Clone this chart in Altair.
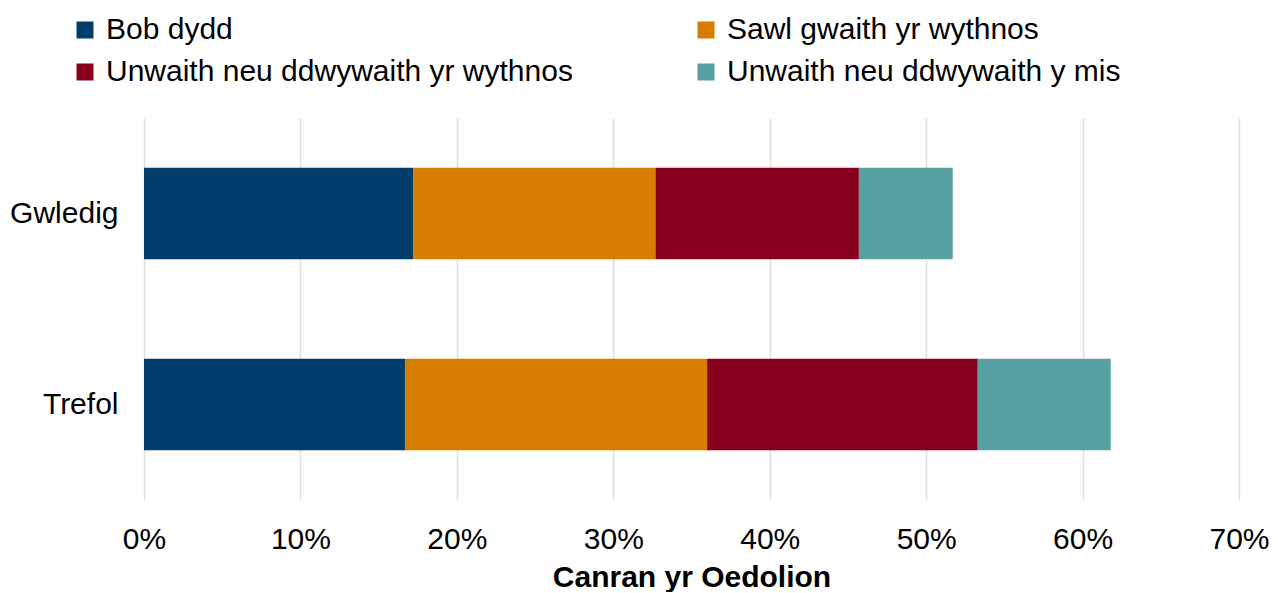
import altair as alt
import pandas as pd

areas = ["Gwledig", "Trefol"]
categories = ["Bob dydd", "Sawl gwaith yr wythnos",
              "Unwaith neu ddwywaith yr wythnos", "Unwaith neu ddwywaith y mis"]
gwledig = [17.2, 15.5, 13.0, 6.0]
trefol = [16.7, 19.3, 17.3, 8.5]
colors = ["#003D6B", "#D67C00", "#88001D", "#57A1A3"]
ticks = [0, 0.1, 0.2, 0.3, 0.4, 0.5, 0.6, 0.7]

rows = []
for area, vals in zip(areas, [gwledig, trefol]):
    for i, (c, v) in enumerate(zip(categories, vals)):
        rows.append({"area": area, "cat": c, "val": v / 100, "ord": i})
df = pd.DataFrame(rows)

FONT = "Liberation Sans"
FS = 30

chart = alt.Chart(df).mark_bar().encode(
    x=alt.X("val:Q", stack="zero",
            scale=alt.Scale(domain=[0, 0.7], nice=False),
            axis=alt.Axis(values=ticks, format=".0%", title="Canran yr Oedolion",
                          labelFontSize=FS, labelFont=FONT, labelColor="black",
                          labelFlush=False, labelOverlap=False,
                          labelPadding=24, titleFontSize=FS, titleFont=FONT,
                          titleFontWeight="bold", titleColor="black", titlePadding=8,
                          domain=False, ticks=False, grid=True,
                          gridColor="#e0e0e0", gridWidth=1.5)),
    y=alt.Y("area:N", sort=areas, title=None,
            scale=alt.Scale(paddingInner=0.52, paddingOuter=0.26),
            axis=alt.Axis(labelFontSize=FS, labelFont=FONT, labelColor="black",
                          labelPadding=26, domain=False, ticks=False, grid=False)),
    color=alt.Color("cat:N", sort=categories,
                    scale=alt.Scale(domain=categories, range=colors),
                    legend=alt.Legend(title=None, orient="none", legendX=-74, legendY=-103,
                                      columns=2, columnPadding=118, rowPadding=12,
                                      symbolType="square", symbolSize=289,
                                      symbolStrokeWidth=0, labelFontSize=FS,
                                      labelFont=FONT, labelColor="black",
                                      labelLimit=800, labelOffset=6, direction="horizontal")),
    order=alt.Order("ord:Q"),
).properties(
    width=1095, height=382,
    padding={"left": 136, "top": 110, "right": 31, "bottom": 92},
    autosize=alt.AutoSizeParams(type="none"),
).configure_view(stroke=None)

chart.save("out.html", embed_options={"renderer": "svg", "actions": False})
